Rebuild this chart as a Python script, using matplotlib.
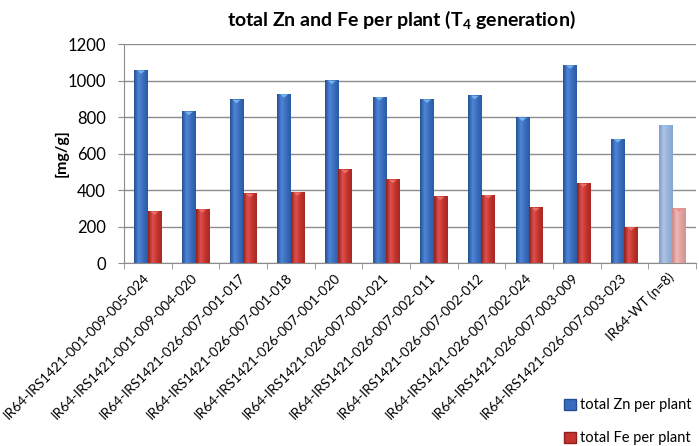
import numpy as np
import matplotlib
matplotlib.use('Agg')
import matplotlib.pyplot as plt
from matplotlib.colors import LinearSegmentedColormap
from matplotlib.patches import Patch

plt.rcParams['font.family'] = ['Lato', 'DejaVu Sans']
plt.rcParams['mathtext.fontset'] = 'custom'
plt.rcParams['mathtext.rm'] = 'Lato:bold'
plt.rcParams['mathtext.bf'] = 'Lato:bold'

lines = ['IR64-IRS1421-001-009-005-024', 'IR64-IRS1421-001-009-004-020',
         'IR64-IRS1421-026-007-001-017', 'IR64-IRS1421-026-007-001-018',
         'IR64-IRS1421-026-007-001-020', 'IR64-IRS1421-026-007-001-021',
         'IR64-IRS1421-026-007-002-011', 'IR64-IRS1421-026-007-002-012',
         'IR64-IRS1421-026-007-002-024', 'IR64-IRS1421-026-007-003-009',
         'IR64-IRS1421-026-007-003-023', 'IR64-WT (n=8)']
zn = [1058, 832, 897, 928, 1002, 912, 899, 919, 799, 1086, 682, 758]
fe = [285, 297, 381, 390, 513, 459, 366, 375, 305, 437, 199, 303]

# shading for the bars: dark edge -> light -> dark edge
zn_cmap = LinearSegmentedColormap.from_list('zn', ['#244f93', '#4f86d6', '#3a6cbd', '#2a5aa4'])
fe_cmap = LinearSegmentedColormap.from_list('fe', ['#8e1f1c', '#e0504b', '#c4332e', '#a52824'])
zn_wt = LinearSegmentedColormap.from_list('znwt', ['#7e9cc7', '#aec6e6', '#96b3da', '#87a5cf'])
fe_wt = LinearSegmentedColormap.from_list('fewt', ['#c98584', '#f0b8b6', '#e2a09e', '#d39391'])

fig = plt.figure(figsize=(6.99, 4.46), dpi=100)
ax = fig.add_axes([0.1774, 0.4103, 0.8183, 0.491])

x = np.arange(len(lines))
w = 0.28
zn_bars = ax.bar(x - w / 2, zn, w, color='#3a6cbd', zorder=3)
fe_bars = ax.bar(x + w / 2, fe, w, color='#c4332e', zorder=3)

grad = np.linspace(0, 1, 64).reshape(1, -1)
def shade(bars, cmap, cmap_last, tip):
    for i, b in enumerate(bars):
        x0, y0 = b.get_x(), b.get_y()
        bw, bh = b.get_width(), b.get_height()
        cm = cmap_last if i == len(bars) - 1 else cmap
        im = ax.imshow(grad, cmap=cm, aspect='auto', extent=(x0, x0 + bw, y0, y0 + bh),
                       zorder=4, interpolation='bicubic')
        im.set_clip_path(b)
        # small light triangle on top
        ax.fill([x0 + bw * 0.2, x0 + bw * 0.8, x0 + bw * 0.5],
                [bh - 3, bh - 3, bh - 22], color=tip, zorder=5, lw=0,
                alpha=0.8 if i < len(bars) - 1 else 0.6)

shade(zn_bars, zn_cmap, zn_wt, '#7fc3f5')
shade(fe_bars, fe_cmap, fe_wt, '#f07a73')

ax.set_xlim(-0.5, len(lines) - 0.5)
ax.set_ylim(0, 1200)
ax.set_yticks(np.arange(0, 1201, 200))
ax.yaxis.grid(True, color='#8c8c8c', lw=1.0, zorder=0)
ax.set_axisbelow(True)

ax.set_xticks(x)
ax.set_xticklabels(lines, rotation=45, ha='right', va='center', rotation_mode='anchor',
                   fontsize=9.8)
ax.set_xticks(np.arange(-0.5, len(lines)), minor=True)
ax.tick_params(axis='x', which='major', length=0, pad=9)
ax.tick_params(axis='x', which='minor', length=4, color='#8c8c8c')
ax.tick_params(axis='y', length=4, color='#8c8c8c', labelsize=12, pad=9)
for s in ['top', 'right']:
    ax.spines[s].set_visible(False)
for s in ['left', 'bottom']:
    ax.spines[s].set_color('#8c8c8c')

# y label placed directly in figure coordinates
fig.text(0.0887, 0.657, '[mg/g]', rotation=90, ha='center', va='center',
         fontsize=11.5, fontweight='bold')
fig.text(0.574, 0.955, r'total Zn and Fe per plant (T$_{4}$ generation)',
         ha='center', va='center', fontsize=14, fontweight='bold')

handles = [Patch(facecolor='#3a6cbd', edgecolor='#244f93'),
           Patch(facecolor='#c4332e', edgecolor='#8e1f1c')]
fig.legend(handles, ['total Zn per plant', 'total Fe per plant'], loc='lower right',
           bbox_to_anchor=(1.0, -0.015), frameon=False, fontsize=10.5, labelspacing=1.3,
           handlelength=0.8, handleheight=0.8, handletextpad=0.3, borderaxespad=0.1)

fig.savefig('out.png', dpi=100)
